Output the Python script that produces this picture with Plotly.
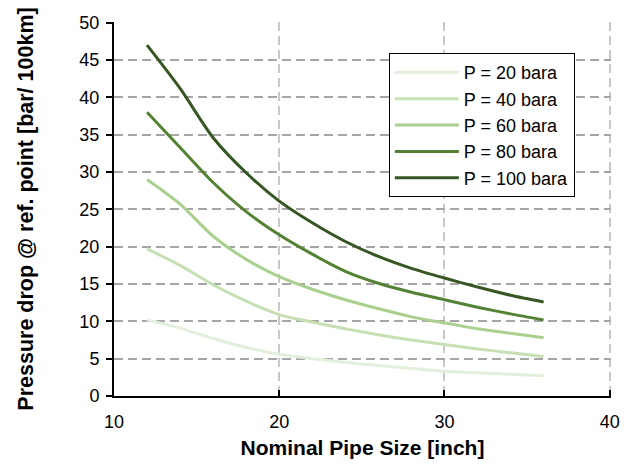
import plotly.graph_objects as go

# Nominal pipe sizes [inch]
pipe_size = [12, 14, 16, 18, 20, 22, 24, 26, 28, 30, 32, 34, 36]

# Pressure drop at the reference point [bar / 100 km] per operating pressure
dp_20 = [10.2, 9.1, 7.7, 6.5, 5.6, 5.0, 4.5, 4.1, 3.7, 3.3, 3.1, 2.9, 2.7]
dp_40 = [19.7, 17.5, 14.9, 12.7, 10.9, 9.9, 9.0, 8.2, 7.5, 6.9, 6.3, 5.8, 5.3]
dp_60 = [29.0, 25.7, 21.4, 18.3, 16.0, 14.3, 12.9, 11.7, 10.6, 9.8, 9.0, 8.4, 7.8]
dp_80 = [38.0, 33.3, 28.6, 24.7, 21.6, 19.0, 16.7, 15.1, 13.9, 12.9, 11.9, 11.0, 10.2]
dp_100 = [47.0, 41.2, 34.6, 29.9, 26.1, 23.2, 20.7, 18.7, 17.1, 15.8, 14.6, 13.5, 12.6]

series_names = ["P = 20 bara", "P = 40 bara", "P = 60 bara", "P = 80 bara", "P = 100 bara"]
series_values = [dp_20, dp_40, dp_60, dp_80, dp_100]
series_colors = ["#e2efda", "#c6e0b4", "#a9d08e", "#548235", "#375623"]

x_ticks = [10, 20, 30, 40]
y_ticks = [0, 5, 10, 15, 20, 25, 30, 35, 40, 45, 50]

FONT = "Liberation Sans, Arial, sans-serif"

fig = go.Figure()
for i, (name, vals, col) in enumerate(zip(series_names, series_values, series_colors)):
    fig.add_trace(go.Scatter(
        x=pipe_size, y=vals, name=name, mode="lines",
        line=dict(color=col, width=3, shape="spline", smoothing=0.8),
        legendgroup=f"g{i}",
    ))

fig.update_layout(
    width=631, height=469,
    margin=dict(l=114, r=11, t=22, b=73),
    paper_bgcolor="white", plot_bgcolor="white",
    font=dict(family=FONT, size=18, color="#000000"),
    showlegend=True,
    legend=dict(
        x=0.553, y=0.917, xanchor="left", yanchor="top",
        bgcolor="white", bordercolor="#000000", borderwidth=1,
        font=dict(family=FONT, size=18, color="#000000"),
        traceorder="grouped", tracegroupgap=0,
        itemwidth=64,
    ),
    xaxis=dict(
        range=[10, 40.08], tickvals=x_ticks, ticktext=[str(v) for v in x_ticks],
        showline=True, linecolor="#000000", linewidth=2,
        ticks="inside", ticklen=6, tickwidth=1.5, tickcolor="#000000",
        ticklabelstandoff=8,
        showgrid=True, gridcolor="#c8c8c8", gridwidth=1.5, griddash="9px,5px",
        zeroline=False,
        title=dict(text="<b>Nominal Pipe Size [inch]</b>", font=dict(size=21), standoff=10),
        tickfont=dict(size=18),
    ),
    yaxis=dict(
        range=[0, 50.1], tickvals=y_ticks,
        showline=True, linecolor="#000000", linewidth=2,
        ticks="outside", ticklen=6, tickwidth=1.5, tickcolor="#000000",
        ticklabelstandoff=3,
        showgrid=True, gridcolor="#a6a6a6", gridwidth=2, griddash="9px,5px",
        zeroline=False,
        title=dict(text="<b>Pressure drop @ ref. point [bar/ 100km]</b>", font=dict(size=21.5), standoff=40),
        tickfont=dict(size=18),
    ),
)

fig.write_html("out.html")
